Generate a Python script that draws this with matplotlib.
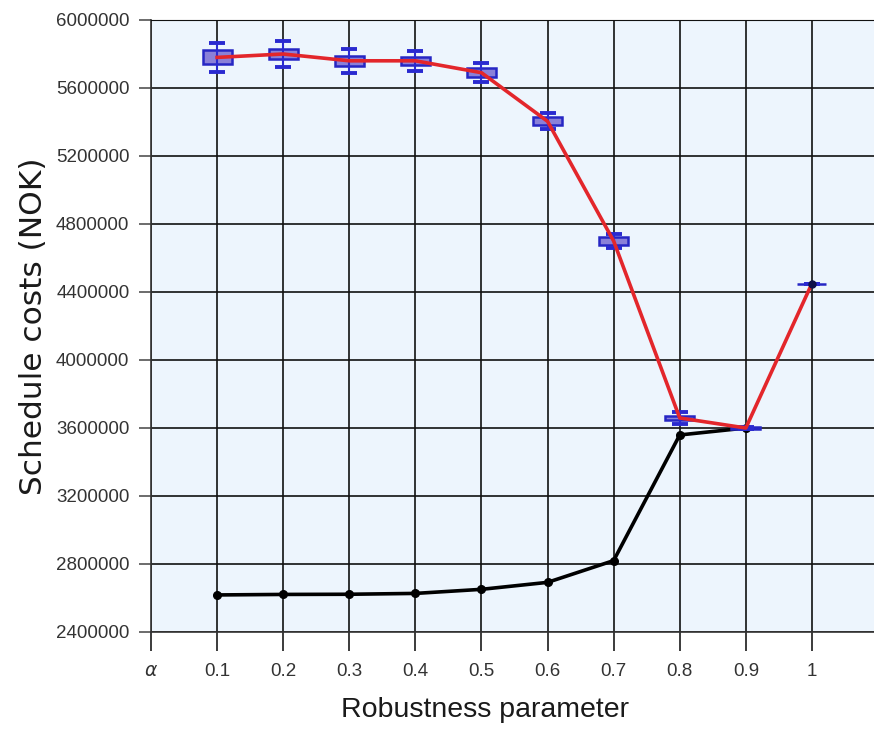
import numpy as np
import matplotlib
matplotlib.use('Agg')
import matplotlib.pyplot as plt

# ==========================================
# DATA
# ==========================================
alpha = [0.1, 0.2, 0.3, 0.4, 0.5, 0.6, 0.7, 0.8, 0.9, 1.0]

# red series: mean schedule cost with box / whisker spread
red_cost = [5780000, 5800000, 5760000, 5760000, 5690000, 5404000, 4700000, 3659000, 3600000, 4450000]
box_half = [41000, 30000, 29000, 23000, 26000, 24000, 21000, 12000, 4000, 0]
whisker = [85000, 76000, 69000, 59000, 56000, 47000, 41000, 35000, 5000, 0]

# black series: nominal schedule cost
black_alpha = [0.1, 0.2, 0.3, 0.4, 0.5, 0.6, 0.7, 0.8, 0.9]
black_cost = [2618000, 2621000, 2622000, 2627000, 2651000, 2692000, 2820000, 3559000, 3600000]

x_ticks = [0.0, 0.1, 0.2, 0.3, 0.4, 0.5, 0.6, 0.7, 0.8, 0.9, 1.0, 1.1]
# the 1.1 label falls outside the picture, so it is left blank
x_tick_labels = [r'$\alpha$', '0.1', '0.2', '0.3', '0.4', '0.5', '0.6', '0.7', '0.8', '0.9', '1', '']
y_ticks = [2400000, 2800000, 3200000, 3600000, 4000000, 4400000, 4800000, 5200000, 5600000, 6000000]

# ==========================================
# PLOTTING
# ==========================================
fig = plt.figure(figsize=(8.74, 7.32), dpi=100)
# plot area runs slightly past the right edge of the picture (as in the original)
ax = fig.add_axes([151 / 874, 1 - 632 / 732, 727 / 874, 612 / 732])
ax.set_facecolor('#edf5fd')

ax.set_xlim(0, 1.1)
ax.set_ylim(2400000, 6000000)

# grid
ax.set_xticks(x_ticks)
ax.set_yticks(y_ticks)
ax.grid(True, color='#111111', linewidth=1.2)
ax.set_axisbelow(True)

# black line
ax.plot(black_alpha, black_cost, color='black', linewidth=2.6, marker='o',
        markersize=5.5, zorder=3)

# boxes and whiskers of the red series
box_bottom = np.array(red_cost) - np.array(box_half)
ax.bar(alpha, 2 * np.array(box_half), bottom=box_bottom, width=0.044,
       color='#8a80d8', edgecolor='#2626c4', linewidth=1.8, zorder=4)
ax.errorbar(alpha, red_cost, yerr=whisker, fmt='none', ecolor='#2a2ad0',
            elinewidth=1.5, capsize=5.5, capthick=2.8, zorder=4)

# red line on top
ax.plot(alpha, red_cost, color='#e3262b', linewidth=2.6, zorder=5)
ax.plot([alpha[-1]], [red_cost[-1]], 'o', color='#10104a', markersize=5, zorder=6)

# ticks & labels
ax.set_xticklabels(x_tick_labels, fontfamily='Liberation Sans', fontsize=13.5, color='#333333')
ax.set_yticklabels([str(v) for v in y_ticks], fontfamily='Liberation Sans', fontsize=13.5, color='#333333')
ax.tick_params(axis='x', direction='out', length=14, width=1.2, color='#1a1a1a', pad=8)
ax.tick_params(axis='y', direction='out', length=8.5, width=1.1, color='#444444', pad=7)

for side in ['left', 'bottom']:
    ax.spines[side].set_color('#333333')
    ax.spines[side].set_linewidth(1.2)
ax.spines['top'].set_color('#111111')
ax.spines['right'].set_visible(False)

ax.set_ylabel('Schedule costs (NOK)', fontfamily='DejaVu Sans', fontsize=22.5, color='#1a1a1a')
ax.yaxis.set_label_coords(-0.142, 0.5)
ax.set_xlabel('Robustness parameter', fontfamily='Liberation Sans', fontsize=20.5, color='#1a1a1a')
ax.xaxis.set_label_coords(0.459, -0.106)

plt.savefig('out.png', dpi=100)
